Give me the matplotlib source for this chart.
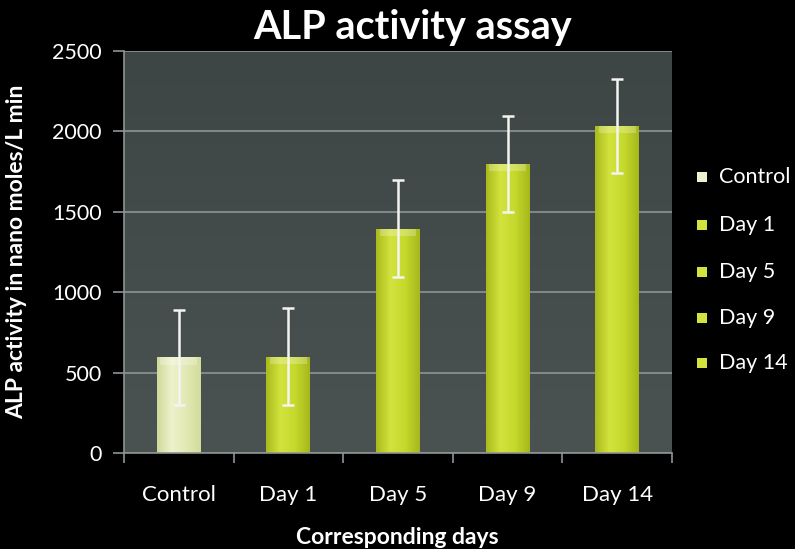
import numpy as np
import matplotlib
matplotlib.use('Agg')
import matplotlib.pyplot as plt
from matplotlib.colors import LinearSegmentedColormap

categories = ['Control', 'Day 1', 'Day 5', 'Day 9', 'Day 14']
values = [595, 600, 1395, 1798, 2032]
errors = [297, 300, 303, 297, 293]
yticks = [0, 500, 1000, 1500, 2000, 2500]

plt.rcParams['font.family'] = ['Lato', 'DejaVu Sans']

fig = plt.figure(figsize=(7.95, 5.49), dpi=100, facecolor='black')
ax = fig.add_axes([124/795, 96/549, 548/795, 402/549])
ax.set_facecolor('#434b4b')

x = np.arange(len(categories))
width = 0.40
ax.set_xlim(-0.5, len(categories) - 0.5)
ax.set_ylim(0, 2500)

# background gradient
bg = np.linspace(0, 1, 256).reshape(-1, 1)
bgmap = LinearSegmentedColormap.from_list('bg', ['#4a5252', '#3d4545'])
ax.imshow(bg, extent=[-0.5, len(categories) - 0.5, 0, 2500], origin='lower',
          aspect='auto', cmap=bgmap, zorder=0)

ax.set_yticks(yticks)
ax.yaxis.grid(True, color='#8d9494', linewidth=1.2, zorder=1)
ax.set_axisbelow(True)

colors_ctrl = ['#cfd99a', '#eef2cc', '#e2e9b4', '#d2dc9c']
colors_day = ['#a9bb1c', '#d3e33e', '#c5d82c', '#a6b81a']

bars = ax.bar(x, values, width, color='none', edgecolor='none', zorder=2)
grad = np.linspace(0, 1, 200).reshape(1, -1)
for i, b in enumerate(bars):
    cols = colors_ctrl if i == 0 else colors_day
    cm = LinearSegmentedColormap.from_list('b%d' % i, cols)
    x0, w, h = b.get_x(), b.get_width(), b.get_height()
    im = ax.imshow(grad, extent=[x0, x0 + w, 0, h], aspect='auto', cmap=cm, zorder=2)
    im.set_clip_path(b)
    # highlight at top of bar
    ax.fill_between([x0 + w * 0.08, x0 + w * 0.92], h - 45, h,
                    color='white', alpha=0.25, linewidth=0, zorder=3)

ax.errorbar(x, values, yerr=errors, fmt='none', ecolor='#f4f4f0', elinewidth=1.8,
            capsize=4, capthick=1.8, zorder=4)

for s in ['top', 'right']:
    ax.spines[s].set_visible(False)
for s in ['left', 'bottom']:
    ax.spines[s].set_color('#8d9494')
    ax.spines[s].set_linewidth(1.2)

ax.set_xticks(x)
ax.set_xticklabels(categories)
ax.set_xticks(np.arange(len(categories) + 1) - 0.5, minor=True)
ax.tick_params(axis='x', which='major', length=0, pad=23, labelsize=16, labelcolor='white')
ax.tick_params(axis='x', which='minor', length=7, width=1.2, color='#8d9494')
ax.tick_params(axis='y', length=8, width=1.2, color='#8d9494', labelsize=15.5,
               labelcolor='white', pad=8)

ax.set_ylabel('ALP activity in nano moles/L min', color='white', fontsize=16.5,
              fontweight='bold')
ax.yaxis.set_label_coords(-0.177, 0.5)

fig.text(397/795, 1/549, 'Corresponding days', color='white', fontsize=16.5,
         fontweight='bold', ha='center', va='bottom')
fig.text(413/795, 1 - 27/549, 'ALP activity assay', color='white', fontsize=28.5,
         fontweight='bold', ha='center', va='center')

# legend
ly = [177, 225, 272, 318, 363]
for i, lab in enumerate(categories):
    c = colors_ctrl[1] if i == 0 else colors_day[1]
    fig.patches.append(plt.Rectangle((697/795, 1 - (ly[i] + 5)/549), 10/795, 10/549,
                                     transform=fig.transFigure, facecolor=c,
                                     edgecolor='none', figure=fig))
    fig.text(719/795, 1 - ly[i]/549, lab, color='white', fontsize=15.5,
             ha='left', va='center')

fig.savefig('out.png', dpi=100, facecolor='black')
